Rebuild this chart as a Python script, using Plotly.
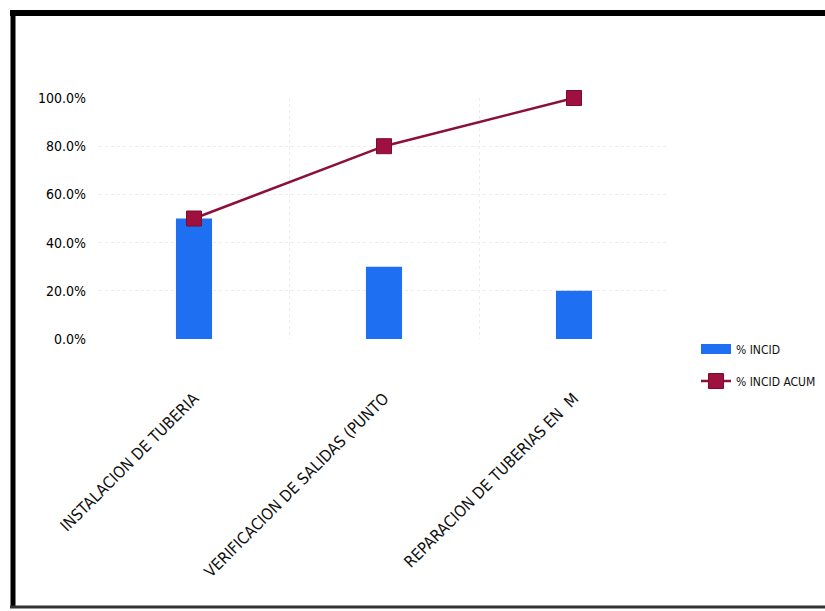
import plotly.graph_objects as go

categories = ["INSTALACION DE TUBERIA", "VERIFICACION DE SALIDAS (PUNTO", "REPARACION DE TUBERIAS EN  M"]
pct_incid = [0.50, 0.30, 0.20]
pct_acum = [0.50, 0.80, 1.00]
y_ticks = [0, 0.2, 0.4, 0.6, 0.8, 1.0]
y_ticktext = ["0.0%", "20.0%", "40.0%", "60.0%", "80.0%", "100.0%"]

W, H = 825, 611
L, R, T, B = 99, 156, 98, 272
PW, PH = W - L - R, H - T - B

def px(x):
    return (x - L) / PW

def py(y):
    return (H - B - y) / PH

font_cond = "DejaVu Sans Condensed, Liberation Sans, Arial, sans-serif"
BLUE = "#1f6ff2"

fig = go.Figure()
fig.add_trace(go.Bar(
    x=categories, y=pct_incid, name="% INCID",
    marker=dict(color=BLUE, line=dict(width=0)),
    width=0.19, showlegend=False,
))
# legend entry for the bars (wide rectangle swatch)
fig.add_trace(go.Scatter(
    x=[None], y=[None], name="% INCID", mode="lines",
    line=dict(color=BLUE, width=10), legend="legend",
))
fig.add_trace(go.Scatter(
    x=categories, y=pct_acum, name="% INCID ACUM", mode="lines+markers",
    line=dict(color="#8c0f3a", width=2.5),
    marker=dict(symbol="square", size=15, color="#a0103f", line=dict(color="#7a0a30", width=1)),
    cliponaxis=False, legend="legend2",
))

leg_font = dict(family=font_cond, size=12, color="#111")
fig.update_layout(
    width=W, height=H,
    margin=dict(l=L, r=R, t=T, b=B, pad=0, autoexpand=False),
    paper_bgcolor="white", plot_bgcolor="white",
    showlegend=True,
    legend=dict(xref="container", yref="container", x=696 / W, y=1 - 349 / H,
                xanchor="left", yanchor="middle", font=leg_font,
                bgcolor="rgba(0,0,0,0)"),
    legend2=dict(xref="container", yref="container", x=696 / W, y=1 - 381 / H,
                 xanchor="left", yanchor="middle", font=leg_font,
                 bgcolor="rgba(0,0,0,0)"),
    xaxis=dict(
        type="category", tickson="boundaries", showgrid=True,
        gridcolor="#ececec", griddash="dot", gridwidth=1,
        showline=False, zeroline=False, ticks="",
        tickangle=-45, ticklabelstandoff=46,
        tickfont=dict(family=font_cond, size=16, color="#111"),
    ),
    yaxis=dict(
        range=[0, 1.0], tickvals=y_ticks, ticktext=y_ticktext,
        showgrid=True, gridcolor="#ececec", griddash="dot", gridwidth=1,
        zeroline=False, showline=False, ticks="",
        ticklabelstandoff=12,
        tickfont=dict(family=font_cond, size=14, color="#000"),
    ),
    shapes=[
        dict(type="line", xref="paper", yref="paper", x0=px(10), x1=px(830), y0=py(13), y1=py(13),
             line=dict(color="black", width=6)),
        dict(type="line", xref="paper", yref="paper", x0=px(13), x1=px(13), y0=py(10), y1=py(608),
             line=dict(color="black", width=5)),
        dict(type="line", xref="paper", yref="paper", x0=px(10), x1=px(830), y0=py(607), y1=py(607),
             line=dict(color="#333", width=3)),
    ],
)

fig.write_html("out.html")
